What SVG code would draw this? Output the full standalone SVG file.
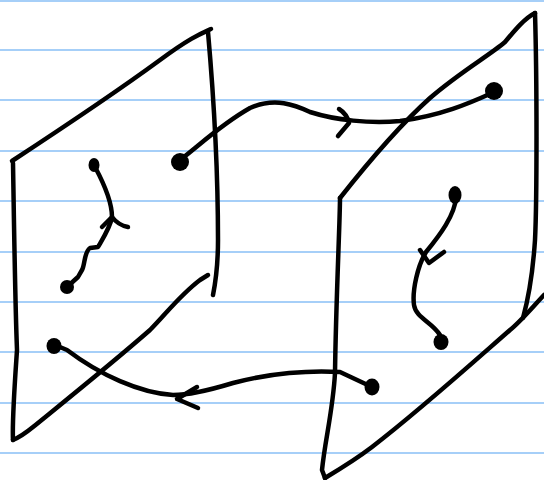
<svg xmlns="http://www.w3.org/2000/svg" width="544" height="480" viewBox="0 0 544 480">
<style>
.rule{stroke:#a6cff8;stroke-width:2}
.ink{fill:none;stroke:#000;stroke-width:4.5;stroke-linecap:round;stroke-linejoin:round}
.dot{fill:#000}
</style>
<rect width="544" height="480" fill="#fff"/>
<g id="paper-lines">
<line class="rule" x1="0" y1="1" x2="544" y2="1"/>
<line class="rule" x1="0" y1="50" x2="544" y2="50"/>
<line class="rule" x1="0" y1="100" x2="544" y2="100"/>
<line class="rule" x1="0" y1="151" x2="544" y2="151"/>
<line class="rule" x1="0" y1="201" x2="544" y2="201"/>
<line class="rule" x1="0" y1="252" x2="544" y2="252"/>
<line class="rule" x1="0" y1="302" x2="544" y2="302"/>
<line class="rule" x1="0" y1="352" x2="544" y2="352"/>
<line class="rule" x1="0" y1="403" x2="544" y2="403"/>
<line class="rule" x1="0" y1="453" x2="544" y2="453"/>
</g>
<g id="panel-left">
<path class="ink" d="M12,161 C70,123 130,82 160,60 S200,34 211,29"/>
<path class="ink" d="M208,32 C214,100 218,180 218,240 C218,265 215,285 213,295"/>
<path class="ink" d="M13,163 C14,220 15,300 17,350 C15,380 12,420 13,440"/>
<path class="ink" d="M13,440 Q22,436 33,427 C60,405 110,365 150,330 C165,315 180,295 200,280 L208,275"/>
</g>
<g id="panel-right">
<path class="ink" d="M340,198 C370,160 400,125 430,98 C460,72 490,55 505,42 C515,30 525,18 535,13"/>
<path class="ink" d="M535,13 C537,80 537,200 535,240 C533,270 528,300 523,318"/>
<path class="ink" d="M544,295 C530,310 520,322 510,330 C470,365 420,410 372,447 C355,460 335,472 325,478"/>
<path class="ink" d="M340,198 C340,220 336,300 335,373 C333,410 325,440 322,470 L325,478"/>
</g>
<g id="node-a"><ellipse class="dot" cx="180" cy="162" rx="9" ry="9"/></g>
<g id="node-b"><ellipse class="dot" cx="494" cy="91" rx="9" ry="9"/></g>
<g id="node-c"><ellipse class="dot" cx="94" cy="165" rx="5.5" ry="7"/></g>
<g id="node-d"><ellipse class="dot" cx="67" cy="287" rx="7" ry="7"/></g>
<g id="node-e"><ellipse class="dot" cx="455" cy="195" rx="6.5" ry="9"/></g>
<g id="node-f"><ellipse class="dot" cx="441" cy="342" rx="7.5" ry="8"/></g>
<g id="node-g"><ellipse class="dot" cx="372" cy="387" rx="7.5" ry="8.5"/></g>
<g id="node-h"><ellipse class="dot" cx="54" cy="346" rx="7.5" ry="8"/></g>
<g id="connectors">
<path class="ink" d="M180,160 C200,145 220,125 250,108 C275,97 295,105 310,112 C335,120 370,124 400,121 C440,116 470,103 492,93"/>
<path class="ink" d="M339,109 Q347,114 349,123 L338,136"/>
<path class="ink" d="M95,167 C102,180 112,200 112,217 C110,228 102,240 98,247 L90,248 C84,252 85,265 82,270 L78,277 L67,287"/>
<path class="ink" d="M102,227 L112,217 Q118,225 128,227"/>
<path class="ink" d="M456,197 C455,215 440,235 426,252 C418,265 412,290 414,305 C416,318 432,322 440,335 L441,341"/>
<path class="ink" d="M420,250 L429,263 L444,252"/>
<path class="ink" d="M372,387 L340,372 C310,370 270,373 233,383 C210,390 190,395 173,395 C140,393 100,375 67,350 L55,345"/>
<path class="ink" d="M197,387 L177,399 L198,408"/>
</g>
</svg>
